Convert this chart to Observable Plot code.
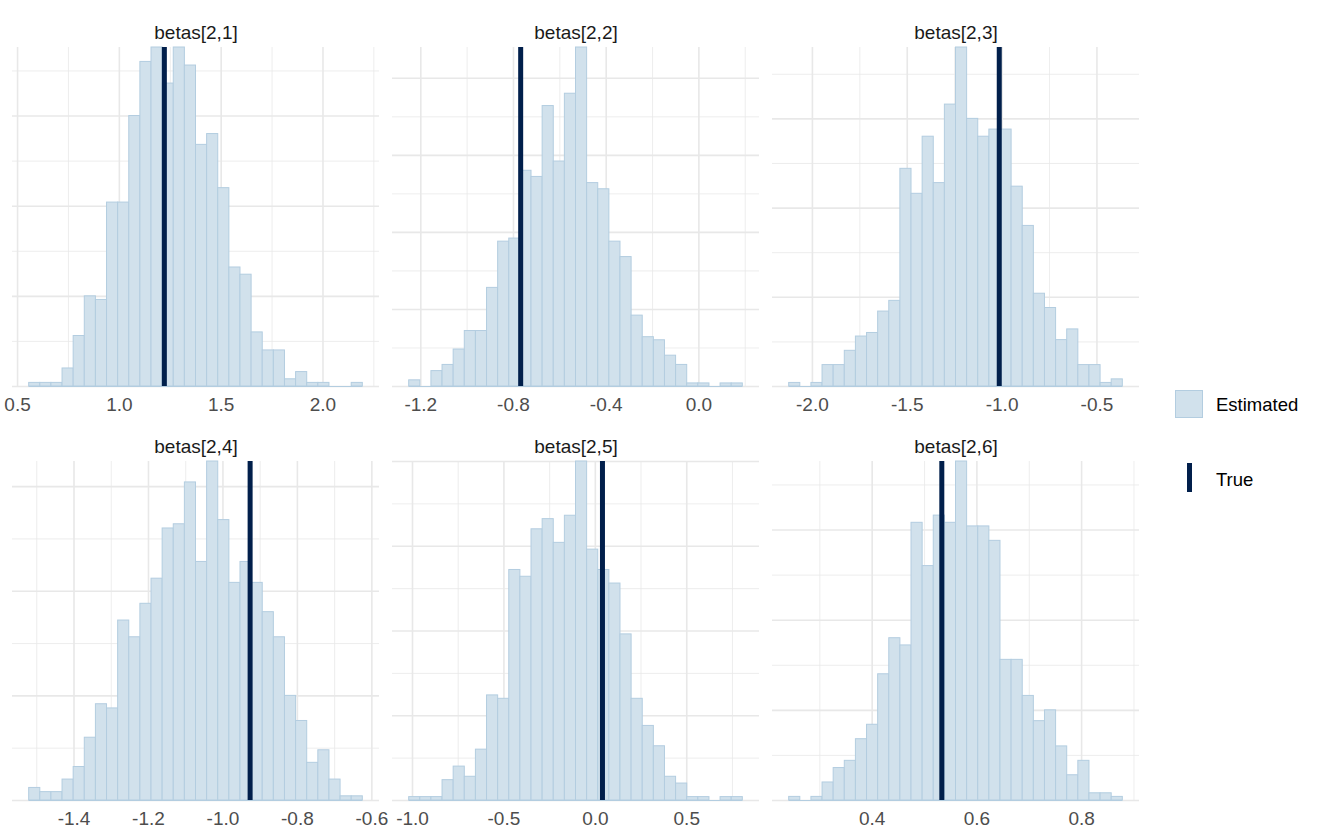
<!DOCTYPE html>
<html>
<head>
<meta charset="utf-8">
<script src="https://cdn.jsdelivr.net/npm/d3@7"></script>
<script src="https://cdn.jsdelivr.net/npm/@observablehq/plot@0.6"></script>
<style>
  body { margin: 0; background: #ffffff; }
  #fig {
    position: relative; width: 1320px; height: 840px; background: #ffffff; overflow: hidden;
    font-family: "Liberation Sans", Arial, sans-serif;
  }
  .panel { position: absolute; }
  .legend-key { position: absolute; box-sizing: border-box; }
  .legend-text { position: absolute; font-size: 18.5px; line-height: 18px; color: #000000; white-space: nowrap; }
</style>
</head>
<body>
<div id="fig"></div>
<script>
// Posterior draws of each coefficient, summarised as 30-bin histograms (counts per bin)
const panelLabels = ["betas[2,1]", "betas[2,2]", "betas[2,3]", "betas[2,4]", "betas[2,5]", "betas[2,6]"];
const trueValues  = [1.221, -0.769, -1.015, -0.927, 0.039, 0.533];
const binStarts   = [0.5571, -1.2501, -2.1225, -1.5204, -1.0182, 0.2415];
const binWidths   = [0.05462, 0.04799, 0.05863, 0.02987, 0.06083, 0.02124];

const counts_2_1 = [1,1,1,5,14,25,24,51,51,75,90,94,84,94,89,67,70,55,33,31,15,10,10,2,4,1,1,0,0,1];
const counts_2_2 = [2,0,5,7,12,18,18,32,47,48,70,68,91,73,95,110,66,64,47,42,23,16,15,10,7,1,1,0,1,1];
const counts_2_3 = [1,0,1,6,6,10,14,15,21,24,61,54,70,57,79,95,75,70,72,72,56,45,26,22,13,16,6,6,1,2];
const counts_2_4 = [3,2,2,5,8,15,23,22,43,39,47,53,65,66,76,57,81,67,52,57,52,45,39,25,19,9,12,5,1,1];
const counts_2_5 = [1,1,1,6,10,7,15,31,30,68,66,80,83,76,84,100,74,68,64,49,30,22,16,7,5,1,1,0,1,1];
const counts_2_6 = [1,0,1,5,9,11,17,21,35,45,43,77,65,79,77,94,76,76,72,39,39,29,22,25,15,7,11,2,2,1];

// Labelled x-axis breaks per panel
const xTicks_2_1 = [0.5, 1.0, 1.5, 2.0];
const xTicks_2_2 = [-1.2, -0.8, -0.4, 0.0];
const xTicks_2_3 = [-2.0, -1.5, -1.0, -0.5];
const xTicks_2_4 = [-1.4, -1.2, -1.0, -0.8, -0.6];
const xTicks_2_5 = [-1.0, -0.5, 0.0, 0.5];
const xTicks_2_6 = [0.4, 0.6, 0.8];

const legendLabels = ["Estimated", "True"];

const allCounts = [counts_2_1, counts_2_2, counts_2_3, counts_2_4, counts_2_5, counts_2_6];
const allTicks  = [xTicks_2_1, xTicks_2_2, xTicks_2_3, xTicks_2_4, xTicks_2_5, xTicks_2_6];

const FILL = "#d1e1ec", OUTLINE = "#b3cde0", DARK = "#011f4b", GRID = "#e8e8e8";
const PANEL_W = 367, PANEL_H = 339;
const M = {l: 20, r: 20, t: 40, b: 40};
const colLeft = [12, 392, 772];
const rowTop = [47, 461];
const FONT = '"Liberation Sans", Arial, sans-serif';

function histogramPanel(i) {
  const start = binStarts[i], w = binWidths[i], counts = allCounts[i];
  const nb = counts.length;
  const bins = counts.map((c, k) => ({x1: start + k * w, x2: start + (k + 1) * w, count: c}));
  const lo = Math.min(start, trueValues[i]);
  const hi = Math.max(start + nb * w, trueValues[i]);
  const pad = (hi - lo) * 0.05;
  const domain = [lo - pad, hi + pad];
  const inDomain = v => v >= domain[0] && v <= domain[1];
  const ymax = d3.max(counts);

  const majors = allTicks[i];
  const step = majors[1] - majors[0];
  const minors = d3.range(majors.length + 1).map(k => majors[0] - step / 2 + k * step);
  const yMajor = d3.range(0, ymax + 1e-9, 25);
  const yMinor = d3.range(12.5, ymax, 25);

  return Plot.plot({
    width: PANEL_W + M.l + M.r,
    height: PANEL_H + M.t + M.b,
    marginLeft: M.l, marginRight: M.r, marginTop: M.t, marginBottom: M.b,
    x: {domain, axis: null},
    y: {domain: [0, ymax], axis: null},
    style: {background: "transparent", overflow: "visible", fontFamily: FONT, fontSize: "19px"},
    marks: [
      Plot.ruleX(minors.filter(inDomain), {stroke: GRID, strokeWidth: 0.8}),
      Plot.ruleY(yMinor, {stroke: GRID, strokeWidth: 0.8}),
      Plot.ruleX(majors.filter(inDomain), {stroke: GRID, strokeWidth: 1.6}),
      Plot.ruleY(yMajor, {stroke: GRID, strokeWidth: 1.6}),
      Plot.ruleY([0], {x1: start, x2: start + nb * w, stroke: OUTLINE, strokeWidth: 1}),
      Plot.rectY(bins, {x1: "x1", x2: "x2", y: "count", fill: FILL, stroke: OUTLINE, strokeWidth: 1}),
      Plot.ruleX([trueValues[i]], {stroke: DARK, strokeWidth: 5}),
      Plot.axisX(majors, {
        tickSize: 0, tickPadding: 11, label: null,
        tickFormat: d => d.toFixed(1), fill: "#4d4d4d", fontSize: 19
      }),
      Plot.text([panelLabels[i]], {
        frameAnchor: "top", dy: -15, lineAnchor: "middle",
        fill: "#1a1a1a", fontSize: 19
      })
    ]
  });
}

const fig = document.getElementById("fig");
panelLabels.forEach((_, i) => {
  const el = histogramPanel(i);
  el.classList.add("panel");
  el.style.left = (colLeft[i % 3] - M.l) + "px";
  el.style.top = (rowTop[Math.floor(i / 3)] - M.t) + "px";
  fig.appendChild(el);
});

// Legend: filled key for the histogram, dark bar for the true value
function addDiv(cls, css, text) {
  const d = document.createElement("div");
  d.className = cls;
  Object.assign(d.style, css);
  if (text) d.textContent = text;
  fig.appendChild(d);
}
addDiv("legend-key", {left: "1175px", top: "390px", width: "28px", height: "28px",
  background: FILL, border: "1px solid " + OUTLINE});
addDiv("legend-text", {left: "1216px", top: "396px"}, legendLabels[0]);
addDiv("legend-key", {left: "1187px", top: "463px", width: "5px", height: "29px", background: DARK});
addDiv("legend-text", {left: "1216px", top: "471px"}, legendLabels[1]);
</script>
</body>
</html>
